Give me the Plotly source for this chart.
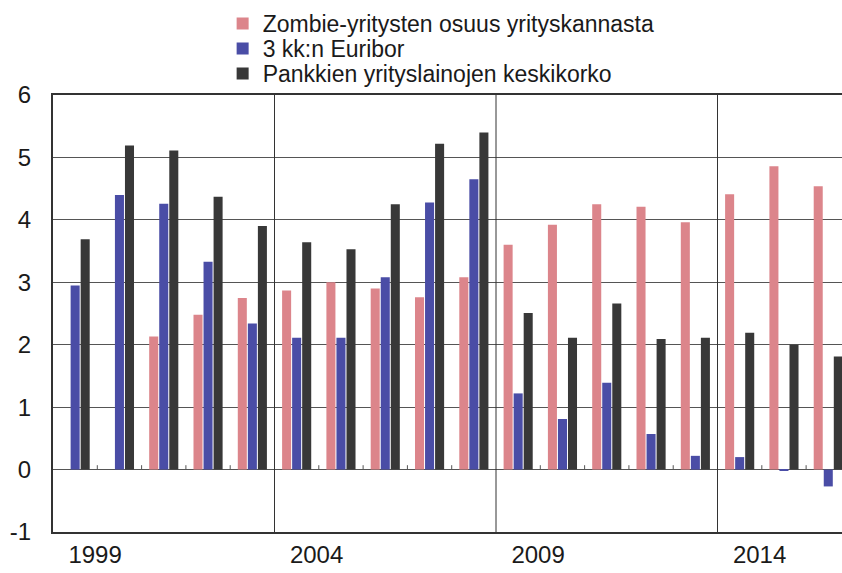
import plotly.graph_objects as go

years = list(range(1999, 2017))
zombie = [None, None, 2.13, 2.48, 2.75, 2.87, 3.00, 2.90, 2.76, 3.08,
          3.60, 3.92, 4.25, 4.21, 3.96, 4.41, 4.86, 4.54]
euribor = [2.95, 4.40, 4.26, 3.33, 2.34, 2.11, 2.11, 3.08, 4.28, 4.65,
           1.22, 0.81, 1.39, 0.57, 0.22, 0.20, -0.02, -0.27]
lending = [3.69, 5.19, 5.11, 4.37, 3.90, 3.64, 3.53, 4.25, 5.22, 5.40,
           2.51, 2.11, 2.66, 2.09, 2.11, 2.19, 2.00, 1.81]
names = ["Zombie-yritysten osuus yrityskannasta", "3 kk:n Euribor",
         "Pankkien yrityslainojen keskikorko"]
colors = ["#DC858B", "#4A4DA6", "#383838"]
label_years = [1999, 2004, 2009, 2014]
y_ticks = [-1, 0, 1, 2, 3, 4, 5, 6]

FONT = "Liberation Sans, Arial, sans-serif"
legend_ids = ["legend", "legend2", "legend3"]
legend_rows = [1.1636, 1.1064, 1.0492]

fig = go.Figure()
for name, vals, col, lid in zip(names, [zombie, euribor, lending], colors, legend_ids):
    fig.add_trace(go.Bar(x=years, y=vals, name=name, marker_color=col,
                         marker_line_width=0, legend=lid, showlegend=True))

shapes = []
for yr in label_years[1:]:
    shapes.append(dict(type="line", xref="x", yref="paper", x0=yr - 0.5, x1=yr - 0.5,
                       y0=0, y1=1, line=dict(color="#333333", width=1), layer="above"))
for yr in years[:-1]:
    if yr + 1 in label_years:
        continue
    shapes.append(dict(type="line", xref="x", yref="y", x0=yr + 0.5, x1=yr + 0.5,
                       y0=0, y1=0.07, line=dict(color="#555555", width=1), layer="above"))

legend_layouts = {}
for lid, ly in zip(legend_ids, legend_rows):
    legend_layouts[lid] = dict(x=0.215, xanchor="left", y=ly, yanchor="middle",
                               font=dict(size=23, family=FONT, color="#1a1a1a"),
                               bgcolor="rgba(0,0,0,0)", itemwidth=30, visible=True,
                               itemclick=False, itemdoubleclick=False)

fig.update_layout(
    width=842, height=573,
    margin=dict(l=53, r=0, t=95, b=41),
    paper_bgcolor="white", plot_bgcolor="white",
    barmode="group", bargap=0.32, bargroupgap=0.1,
    font=dict(family=FONT, color="#1a1a1a"),
    showlegend=True,
    shapes=shapes,
    xaxis=dict(range=[1998.5, 2016.31], tickmode="array",
               tickvals=[y + 0.45 for y in label_years],
               ticktext=[str(y) for y in label_years],
               tickfont=dict(size=24), ticks="", showgrid=False,
               showline=True, linecolor="#333333", linewidth=2, mirror=True,
               zeroline=False),
    yaxis=dict(range=[-1, 6], tickmode="array", tickvals=y_ticks,
               ticktext=[str(v) for v in y_ticks], tickfont=dict(size=24),
               showgrid=True, gridcolor="#555555", gridwidth=1,
               zeroline=True, zerolinecolor="#555555", zerolinewidth=1,
               showline=True, linecolor="#333333", linewidth=2, ticks="",
               ticklabelstandoff=15),
    **legend_layouts,
)

fig.write_html("out.html", config={"displayModeBar": False},
               post_script="document.body.style.margin='0';")
